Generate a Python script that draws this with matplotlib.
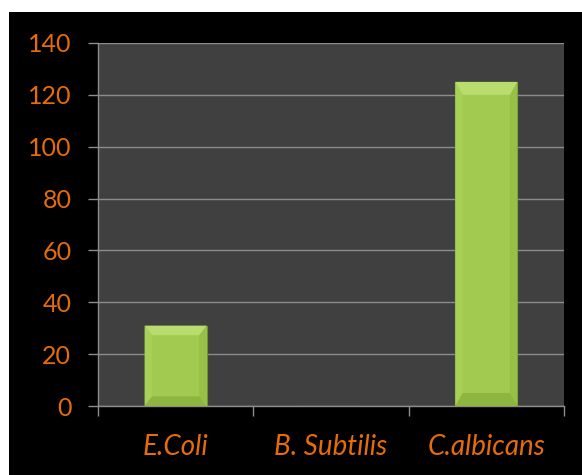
import matplotlib
matplotlib.use("Agg")
import matplotlib.pyplot as plt
from matplotlib.patches import Rectangle, Polygon

# organisms and their values
organisms = ["E.Coli", "B. Subtilis", "C.albicans"]
values = [31, 0, 125]
yticks = [0, 20, 40, 60, 80, 100, 120, 140]

orange = "#e46c0a"
bar_face = "#a2ca50"

fig = plt.figure(figsize=(5.82, 4.75), dpi=100)
fig.patch.set_facecolor("white")
# black chart area behind the axes
fig.patches.append(Rectangle((9 / 582, 0), 1 - 9 / 582, 1 - 12 / 475,
                             transform=fig.transFigure, facecolor="black",
                             edgecolor="none", zorder=-5))

ax = fig.add_axes([98 / 582, 69 / 475, 466 / 582, 363 / 475])
ax.set_facecolor("#404040")

x = range(len(organisms))
width = 0.4
bars = ax.bar(x, values, width=width, color=bar_face, edgecolor="#6f8f30",
              linewidth=0.8, zorder=3)

# soft bevel shading on each bar
for b in bars:
    h = b.get_height()
    if h <= 0:
        continue
    x0, w = b.get_x(), b.get_width()
    dx = w * 0.12
    dy = min(h * 0.12, 5)
    top = Polygon([(x0, h), (x0 + w, h), (x0 + w - dx, h - dy), (x0 + dx, h - dy)],
                  closed=True, facecolor="#b9dc6e", edgecolor="none", zorder=4)
    left = Polygon([(x0, h), (x0 + dx, h - dy), (x0 + dx, dy), (x0, 0)],
                   closed=True, facecolor="#a8cf56", edgecolor="none", zorder=4)
    right = Polygon([(x0 + w, h), (x0 + w - dx, h - dy), (x0 + w - dx, dy), (x0 + w, 0)],
                    closed=True, facecolor="#98c047", edgecolor="none", zorder=4)
    bottom = Polygon([(x0, 0), (x0 + w, 0), (x0 + w - dx, dy), (x0 + dx, dy)],
                     closed=True, facecolor="#8fb541", edgecolor="none", zorder=4)
    for p in (top, left, right, bottom):
        ax.add_patch(p)

ax.set_xlim(-0.5, len(organisms) - 0.5)
ax.set_ylim(0, 140)
ax.set_yticks(yticks)
ax.set_xticks([i + 0.5 for i in range(-1, len(organisms))])
ax.set_xticklabels([])
ax.set_xticks(list(x), minor=True)
ax.set_xticklabels(organisms, minor=True, fontstyle="italic")

ax.yaxis.grid(True, color="#8c8c8c", linewidth=1)
ax.set_axisbelow(True)

for s in ("top", "right"):
    ax.spines[s].set_visible(False)
for s in ("left", "bottom"):
    ax.spines[s].set_color("#8c8c8c")
    ax.spines[s].set_linewidth(1)

ax.tick_params(axis="y", colors="#8c8c8c", length=7.2, width=1, pad=12,
               labelcolor=orange, labelsize=18)
ax.tick_params(axis="x", which="major", colors="#8c8c8c", length=7.2, width=1)
ax.tick_params(axis="x", which="minor", length=0, pad=20,
               labelcolor=orange, labelsize=20)
for lbl in ax.get_yticklabels() + ax.get_xticklabels(minor=True):
    lbl.set_family(["Lato", "DejaVu Sans"])

fig.savefig("out.png", dpi=100)
